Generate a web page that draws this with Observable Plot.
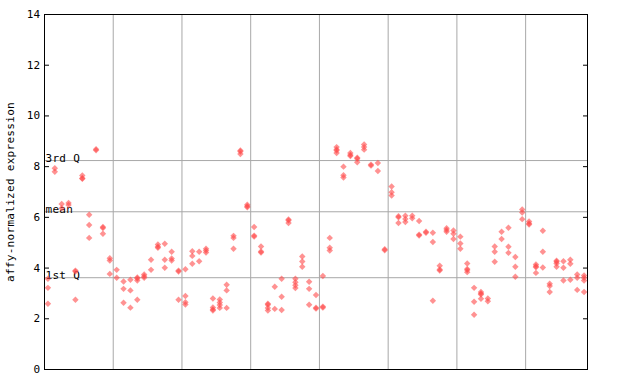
<!DOCTYPE html>
<html>
<head>
<meta charset="utf-8">
<script src="https://cdn.jsdelivr.net/npm/d3@7"></script>
<script src="https://cdn.jsdelivr.net/npm/@observablehq/plot@0.6"></script>
<style>
  html, body { margin: 0; padding: 0; background: #fff; }
</style>
</head>
<body>
<div id="chart"></div>
<script>
// Expression values per sample column, grouped by the 8 vertical panels
const group1 = [[3.58,3.22,2.59],[7.94,7.8],[6.53,6.36],[6.57,6.49],[3.9,3.86,2.75],[7.65,7.54,7.52],[6.1,5.7,5.19],[8.69,8.65],[5.62,5.58,5.35],[4.39,4.3,3.77]];
const group2 = [[3.93,3.62],[3.47,3.18,2.63],[3.54,3.12,2.44],[3.63,3.59,3.51,2.75],[3.75,3.68,3.62],[4.33,3.93],[4.93,4.84,4.8],[4.96,4.33,4.01],[4.64,4.38,4.3],[3.9,3.86,2.75]];
const group3 = [[3.95,2.9,2.65,2.56],[4.66,4.48,4.17],[4.64,4.27],[4.76,4.69,4.61],[2.8,2.45,2.37,2.33],[2.76,2.64,2.54,2.43],[3.34,3.12,2.43],[5.27,5.19,4.76],[8.64,8.6,8.5],[6.5,6.44,6.4]];
const group4 = [[5.62,5.28,5.24],[4.85,4.65,4.61],[2.59,2.55,2.43,2.33],[3.26,2.39],[3.58,2.87,2.35],[5.92,5.88,5.78],[3.58,3.44,3.32,3.21],[4.46,4.26,4.05],[3.46,3.18,2.55],[2.94,2.44,2.4]];
const group5 = [[3.69,2.48,2.44],[5.19,4.8,4.69],[8.77,8.68,8.64,8.54],[8.0,7.66,7.57],[8.54,8.46,8.42],[8.35,8.31,8.17],[8.87,8.77,8.67],[8.08,8.04],[8.14,7.83],[4.74,4.7]];
const group6 = [[7.22,6.99,6.86],[6.04,6.0,5.78],[6.06,5.94,5.82],[6.06,5.96],[5.86,5.32,5.28],[5.43,5.39],[5.39,5.03,2.71],[4.09,3.94,3.9],[5.57,5.5,5.43],[5.48,5.35,5.15]];
const group7 = [[5.24,4.97,4.76],[4.18,3.96,3.92,3.84],[3.22,2.67,2.16],[3.06,3.0,2.96,2.79],[2.8,2.69],[4.85,4.64,4.25],[5.43,5.15],[5.59,4.84,4.6],[4.44,4.05,3.66],[6.31,6.19,5.93]];
const group8 = [[5.84,5.76,5.72],[4.14,4.07,4.03,3.81],[5.47,4.64,4.02],[3.38,3.29,3.06],[4.29,4.25,4.18,4.05],[4.27,4.01,3.51],[4.33,4.17,3.54],[3.75,3.62,3.14],[3.71,3.62,3.51,3.06]];

const statLabels = ["3rd Q", "mean", "1st Q"];
const statValues = [8.24, 6.22, 3.62];
const yTicks = [0, 2, 4, 6, 8, 10, 12, 14];

const groups = [group1, group2, group3, group4, group5, group6, group7, group8];
const points = [];
const boundaries = [];
let col = 0;
groups.forEach((g, gi) => {
  if (gi > 0) boundaries.push(col);
  g.forEach(vals => {
    vals.forEach(v => points.push({x: col + 0.5, y: v}));
    col++;
  });
});
const nCols = col;

const chart = Plot.plot({
  width: 640,
  height: 384,
  marginLeft: 44,
  marginRight: 53,
  marginTop: 14,
  marginBottom: 15,
  style: {fontFamily: "DejaVu Sans Mono", fontSize: "11px", background: "#fff", color: "#000", letterSpacing: "0.3px"},
  x: {domain: [0, nCols], axis: null},
  y: {domain: [0, 14]},
  marks: [
    Plot.ruleX(boundaries, {stroke: "#a8a8a8", strokeWidth: 1}),
    Plot.ruleY(statValues, {stroke: "#a8a8a8", strokeWidth: 1}),
    Plot.text(statLabels, {x: () => 0, y: (d, i) => statValues[i], text: d => d, textAnchor: "start", lineAnchor: "bottom", dx: 1, dy: 1, fill: "#000"}),
    Plot.dot(points, {x: "x", y: "y", symbol: "diamond2", r: 2.9, fill: "#ff4a4a", fillOpacity: 0.6, stroke: "none"}),
    Plot.frame({stroke: "#000", strokeWidth: 1}),
    Plot.axisY(yTicks, {anchor: "left", tickSize: 5, dx: 5, tickPadding: 4, label: "affy-normalized expression", labelAnchor: "center", labelArrow: "none", labelOffset: 38}),
    Plot.axisY(yTicks, {anchor: "right", tickSize: 5, dx: -5, text: null, label: null})
  ]
});
document.getElementById("chart").appendChild(chart);
</script>
</body>
</html>
